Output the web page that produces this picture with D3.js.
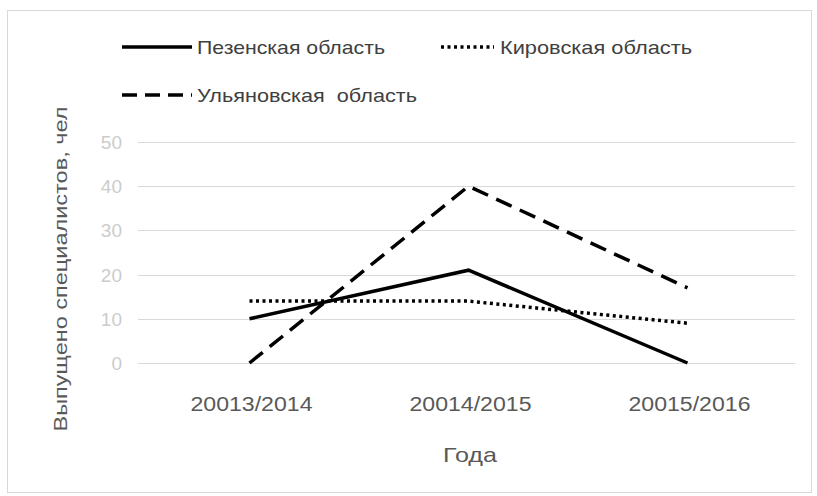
<!DOCTYPE html>
<html>
<head>
<meta charset="utf-8">
<script src="https://cdn.jsdelivr.net/npm/d3@7"></script>
<style>
  body { margin: 0; background: #fff; }
  text { font-family: "Liberation Sans Narrow", "Liberation Sans", sans-serif; }
</style>
</head>
<body>
<div id="chart"></div>
<script>
// Data
const years = ['20013/2014', '20014/2015', '20015/2016']
const penza = [10, 21, 0]
const kirov = [14, 14, 9]
const ulyanovsk = [0, 40, 17]
const yTicks = [0, 10, 20, 30, 40, 50]

const seriesNames = ['Пезенская область', 'Кировская область', 'Ульяновская  область']

const series = [
    { name: seriesNames[0], values: penza, dash: null },
    { name: seriesNames[1], values: kirov, dash: '3,3.5' },
    { name: seriesNames[2], values: ulyanovsk, dash: '17,9' }
]

const width = 817
const height = 496
const plot = { left: 138, right: 795, top: 142, bottom: 363 }

const svg = d3.select('#chart').append('svg')
    .attr('width', width)
    .attr('height', height)

// chart border
svg.append('rect')
    .attr('x', 7.5).attr('y', 10.5)
    .attr('width', 804).attr('height', 482)
    .attr('fill', 'none')
    .attr('stroke', '#d9d9d9')

const x = d3.scaleBand()
    .domain(years)
    .range([plot.left, plot.right])

const y = d3.scaleLinear()
    .domain([0, 50])
    .range([plot.bottom, plot.top])

// gridlines
svg.append('g')
    .selectAll('line')
    .data(yTicks)
    .join('line')
        .attr('x1', plot.left)
        .attr('x2', plot.right)
        .attr('y1', d => Math.round(y(d)) + 0.5)
        .attr('y2', d => Math.round(y(d)) + 0.5)
        .attr('stroke', '#d9d9d9')
        .attr('stroke-width', 1)

// y tick labels
svg.append('g')
    .selectAll('text')
    .data(yTicks)
    .join('text')
        .attr('x', 122)
        .attr('y', d => y(d) + 7)
        .attr('text-anchor', 'end')
        .attr('fill', '#cccccc')
        .style('font-family', '"Liberation Sans", sans-serif')
        .style('font-size', '19px')
        .text(d => d)

// x tick labels
svg.append('g')
    .selectAll('text')
    .data(years)
    .join('text')
        .attr('x', d => x(d) + x.bandwidth() / 2 + 4)
        .attr('y', 411)
        .attr('text-anchor', 'middle')
        .attr('fill', '#595959')
        .style('font-family', '"Liberation Sans", sans-serif')
        .style('font-size', '20px')
        .attr('textLength', 122)
        .attr('lengthAdjust', 'spacingAndGlyphs')
        .text(d => d)

// axis titles
svg.append('text')
    .attr('x', 470)
    .attr('y', 462)
    .attr('text-anchor', 'middle')
    .attr('fill', '#595959')
    .style('font-family', '"Liberation Sans", sans-serif')
    .style('font-size', '21px')
    .attr('textLength', 54)
    .attr('lengthAdjust', 'spacingAndGlyphs')
    .text('Года')

svg.append('text')
    .attr('transform', 'translate(67, 269) rotate(-90)')
    .attr('text-anchor', 'middle')
    .attr('fill', '#595959')
    .style('font-family', '"Liberation Sans", sans-serif')
    .style('font-size', '19px')
    .attr('textLength', 325)
    .attr('lengthAdjust', 'spacingAndGlyphs')
    .text('Выпущено специалистов, чел')

// lines
const line = d3.line()
    .x((d, i) => x(years[i]) + x.bandwidth() / 2 + 2)
    .y(d => y(d))

svg.append('g')
    .selectAll('path')
    .data(series)
    .join('path')
        .attr('d', d => line(d.values))
        .attr('fill', 'none')
        .attr('stroke', '#000')
        .attr('stroke-width', 3.5)
        .attr('stroke-dasharray', d => d.dash)

// legend
const legendItems = [
    { s: series[0], x: 122, y: 47, len: 70, textX: 197, textLen: 188 },
    { s: series[1], x: 441, y: 47, len: 53, textX: 500, textLen: 192 },
    { s: series[2], x: 122, y: 95, len: 70, textX: 197, textLen: 220 }
]

const legend = svg.append('g')

legendItems.forEach(item => {
    legend.append('line')
        .attr('x1', item.x)
        .attr('x2', item.x + item.len)
        .attr('y1', item.y)
        .attr('y2', item.y)
        .attr('stroke', '#000')
        .attr('stroke-width', 3.5)
        .attr('stroke-dasharray', item.s.dash === '17,9' ? '15,8' : item.s.dash)

    legend.append('text')
        .attr('x', item.textX)
        .attr('y', item.y + 7)
        .attr('fill', '#404040')
        .style('font-size', '19px')
        .attr('textLength', item.textLen)
        .attr('lengthAdjust', 'spacingAndGlyphs')
        .style('white-space', 'pre')
        .text(item.s.name)
})
</script>
</body>
</html>
